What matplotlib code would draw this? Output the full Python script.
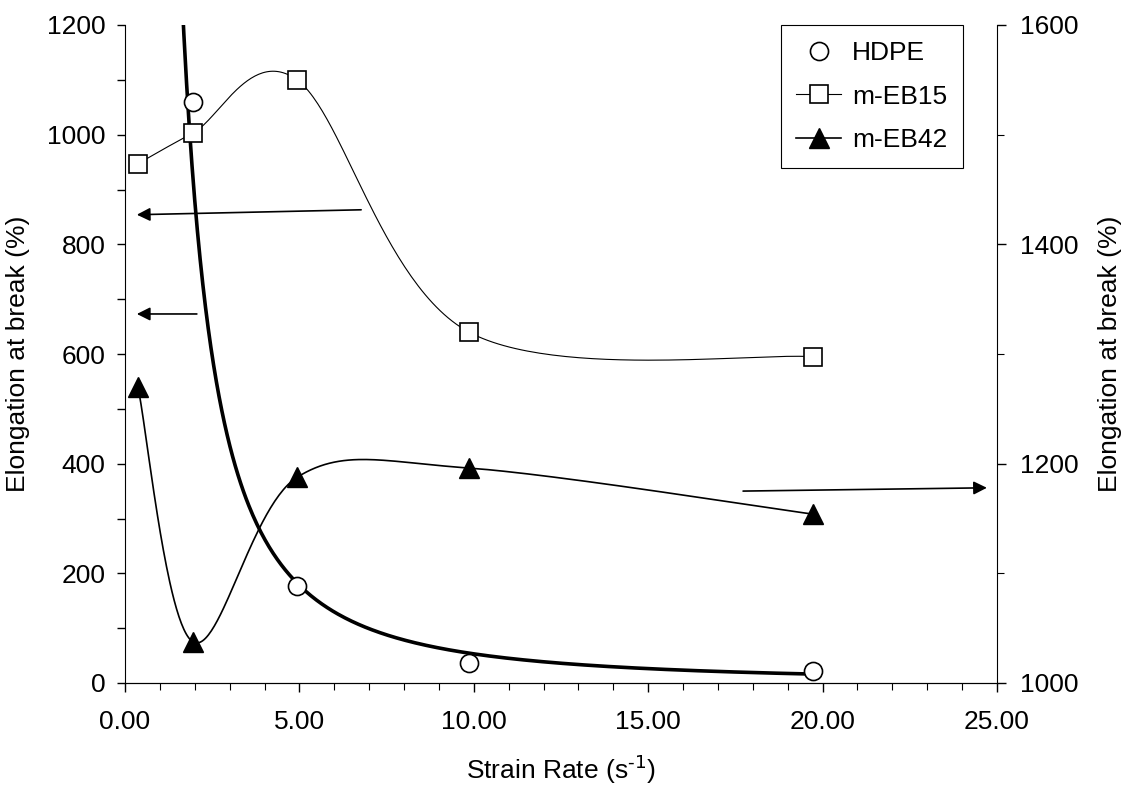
import numpy as np
import matplotlib
matplotlib.use('Agg')
import matplotlib.pyplot as plt
from matplotlib.lines import Line2D
from matplotlib.ticker import MultipleLocator, FormatStrFormatter

plt.rcParams['font.family'] = ['Liberation Sans', 'DejaVu Sans']
plt.rcParams['mathtext.default'] = 'regular'

# HDPE (circles + power-law trendline)
x_hdpe = [1.95, 4.93, 9.86, 19.72]
y_hdpe = [1060, 177, 36, 22]
# m-EB15 (squares)
x_eb15 = [0.37, 1.95, 4.93, 9.86, 19.72]
y_eb15 = [947, 1003, 1100, 640, 595]
# m-EB42 (triangles)
x_eb42 = [0.37, 1.95, 4.93, 9.86, 19.72]
y_eb42 = [540, 75, 375, 392, 308]

# annotation arrows (start, end) in left-axis data units
arrows = [((6.77, 863), (0.34, 854)),
          ((2.06, 673), (0.34, 673)),
          ((17.72, 350), (24.71, 356))]

FS = 19


def smooth(xs, ys, n=60):
    # excel-like smoothed line: bezier segments, control points from neighbours
    p = np.column_stack([xs, ys]).astype(float)
    pe = np.vstack([p[0], p, p[-1]])
    out = []
    t = np.linspace(0, 1, n)[:, None]
    for i in range(len(p) - 1):
        p0, p1, p2, p3 = pe[i], pe[i+1], pe[i+2], pe[i+3]
        c1 = p1 + (p2 - p0) / 6
        c2 = p2 - (p3 - p1) / 6
        seg = (1-t)**3*p1 + 3*(1-t)**2*t*c1 + 3*(1-t)*t**2*c2 + t**3*p2
        out.append(seg)
    pts = np.vstack(out)
    return pts[:, 0], pts[:, 1]


fig = plt.figure(figsize=(11.23, 7.9), dpi=100)
ax = fig.add_axes([125/1123, 1-683/790, 872/1123, 658/790])

# power trendline for HDPE
b, a = np.polyfit(np.log(x_hdpe), np.log(y_hdpe), 1)
xt = np.linspace(min(x_eb15), max(x_hdpe), 500)
ax.plot(xt, np.exp(a) * xt**b, color='k', lw=2.6, zorder=2)

sx, sy = smooth(x_eb15, y_eb15)
ax.plot(sx, sy, color='k', lw=0.8, zorder=2)
sx, sy = smooth(x_eb42, y_eb42)
ax.plot(sx, sy, color='k', lw=1.2, zorder=2)

ax.plot(x_hdpe, y_hdpe, 'o', ms=13, mfc='white', mec='k', mew=1.2, zorder=3)
ax.plot(x_eb15, y_eb15, 's', ms=13, mfc='white', mec='k', mew=1.2, zorder=3)
ax.plot(x_eb42, y_eb42, '^', ms=14, mfc='k', mec='k', zorder=3)

for (x0, y0), (x1, y1) in arrows:
    ax.annotate('', xy=(x1, y1), xytext=(x0, y0),
                arrowprops=dict(arrowstyle='-|>', color='k', lw=1.2,
                                mutation_scale=20, shrinkA=0, shrinkB=0))

ax.set_xlim(0, 25)
ax.set_ylim(0, 1200)
ax.xaxis.set_major_locator(MultipleLocator(5))
ax.xaxis.set_minor_locator(MultipleLocator(1))
ax.xaxis.set_major_formatter(FormatStrFormatter('%.2f'))
ax.yaxis.set_major_locator(MultipleLocator(200))
ax.yaxis.set_minor_locator(MultipleLocator(100))
ax.tick_params(axis='x', which='major', direction='out', length=6.5, width=1, labelsize=FS, pad=13)
ax.tick_params(axis='x', which='minor', direction='out', length=5, width=0.8)
ax.tick_params(axis='y', which='both', direction='out', length=6, width=1, labelsize=FS, pad=8)
ax.spines['top'].set_visible(False)
ax.spines['right'].set_visible(False)
ax.set_xlabel(r'Strain Rate (s$^{\text{-1}}$)', fontsize=FS, labelpad=14)
ax.set_ylabel('Elongation at break (%)', fontsize=FS, labelpad=12)

ax2 = ax.twinx()
ax2.set_ylim(1000, 1600)
ax2.yaxis.set_major_locator(MultipleLocator(200))
ax2.yaxis.set_minor_locator(MultipleLocator(100))
ax2.tick_params(axis='y', which='major', direction='out', length=6.5, width=1, labelsize=FS, pad=10)
ax2.tick_params(axis='y', which='minor', direction='out', length=5, width=0.8)
ax2.spines['top'].set_visible(False)
ax2.spines['left'].set_visible(False)
ax2.set_ylabel('Elongation at break (%)', fontsize=FS, labelpad=14)

handles = [
    Line2D([], [], ls='none', marker='o', ms=13, mfc='white', mec='k', mew=1.2),
    Line2D([], [], color='k', lw=0.8, marker='s', ms=13, mfc='white', mec='k', mew=1.2),
    Line2D([], [], color='k', lw=1.2, marker='^', ms=14, mfc='k', mec='k'),
]
leg = ax2.legend(handles, ['HDPE', 'm-EB15', 'm-EB42'], loc='upper right',
                 bbox_to_anchor=(0.961, 1.0), borderaxespad=0, fontsize=FS,
                 frameon=True, fancybox=False, framealpha=1, edgecolor='k',
                 handlelength=1.7, labelspacing=0.75, handletextpad=0.4,
                 borderpad=0.6)
leg.get_frame().set_linewidth(0.8)

fig.savefig('out.png', dpi=100)
